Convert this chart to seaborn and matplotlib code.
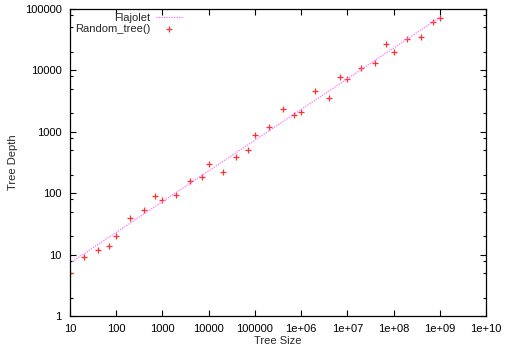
import matplotlib
matplotlib.use("Agg")
import matplotlib.pyplot as plt
import matplotlib.ticker as mticker
import seaborn as sns
import pandas as pd

# Data
sizes = [10, 20, 40, 70, 100, 200, 400, 700, 1000, 2000, 4000, 7000,
         1e4, 2e4, 4e4, 7e4, 1e5, 2e5, 4e5, 7e5, 1e6, 2e6, 4e6, 7e6,
         1e7, 2e7, 4e7, 7e7, 1e8, 2e8, 4e8, 7e8, 1e9]
depths = [5.0, 9.0, 12, 14, 20, 39, 53, 90, 77, 94, 160, 182,
          298, 224, 392, 498, 891, 1180, 2330, 1845, 2140, 4690, 3600, 7900,
          7250, 11000, 13100, 27100, 19800, 32600, 35200, 61700, 70100]

flaj_x = [10, 100, 1000, 1e4, 1e5, 1e6, 1e7, 1e8, 1e9]
flaj_y = [7.3, 23, 73, 231, 730, 2310, 7300, 23100, 73000]

xticks = [10, 100, 1000, 1e4, 1e5, 1e6, 1e7, 1e8, 1e9, 1e10]
xticklabels = ["10", "100", "1000", "10000", "100000", "1e+06", "1e+07",
               "1e+08", "1e+09", "1e+10"]
yticks = [1, 10, 100, 1000, 1e4, 1e5]
yticklabels = ["1", "10", "100", "1000", "10000", "100000"]

sns.set_style("ticks")
plt.rcParams['font.family'] = ['Liberation Sans', 'DejaVu Sans']
plt.rcParams['font.size'] = 8

fig = plt.figure(figsize=(5.07, 3.52), dpi=100)
ax = fig.add_axes([70/507, 1-316/352, (486-70)/507, (316-9)/352])

df_line = pd.DataFrame({"x": flaj_x, "y": flaj_y})
df_pts = pd.DataFrame({"x": sizes, "y": depths})

sns.lineplot(data=df_line, x="x", y="y", ax=ax, color="#ff70ff",
             linewidth=0.9, linestyle=(0, (1, 1)), label="Flajolet")
sns.scatterplot(data=df_pts, x="x", y="y", ax=ax, marker="+", color="#ff3030",
                s=20, linewidth=0.9, label="Random_tree()")

ax.set_xscale("log")
ax.set_yscale("log")
ax.set_xlim(10, 1e10)
ax.set_ylim(1, 1e5)

ax.set_xticks(xticks)
ax.set_xticklabels(xticklabels)
ax.set_yticks(yticks)
ax.set_yticklabels(yticklabels)
ax.xaxis.set_minor_locator(mticker.LogLocator(base=10, subs=(2, 5, 8)))
ax.yaxis.set_minor_locator(mticker.LogLocator(base=10, subs=(2, 5, 8)))
ax.xaxis.set_minor_formatter(mticker.NullFormatter())
ax.yaxis.set_minor_formatter(mticker.NullFormatter())

ax.tick_params(which="both", direction="in", top=True, right=True,
               colors="black", labelsize=8)
ax.tick_params(which="major", length=4, width=0.8, pad=6)
ax.tick_params(which="minor", length=2, width=0.8)
for s in ax.spines.values():
    s.set_visible(True)
    s.set_color("black")
    s.set_linewidth(0.9)

ax.set_xlabel("Tree Size", fontsize=8, labelpad=1)
ax.set_ylabel("Tree Depth", fontsize=8, labelpad=5)

leg = ax.legend(loc="upper left", bbox_to_anchor=(-0.004, 1.008), frameon=False,
                markerfirst=False, handlelength=2.4, labelspacing=0.05,
                handletextpad=0.5, fontsize=8, borderaxespad=0.2)

fig.savefig("out.png", dpi=100)
